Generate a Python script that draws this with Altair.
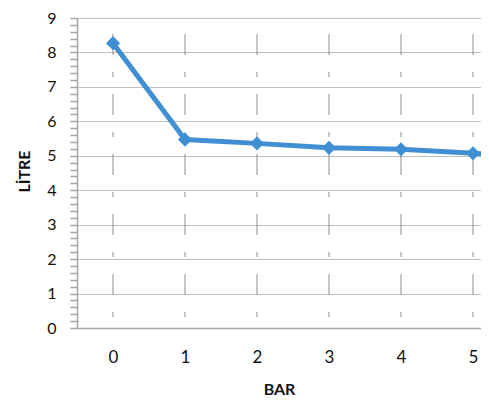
import altair as alt
import pandas as pd

bar = [0, 1, 2, 3, 4, 5, 6]
litre = [8.27, 5.47, 5.36, 5.23, 5.19, 5.07, 4.95]
x_ticks = [0, 1, 2, 3, 4, 5]
y_ticks = [round(i * 0.2, 1) for i in range(46)]

df = pd.DataFrame({"BAR": bar, "LITRE": litre})
grid_df = pd.DataFrame({"BAR": x_ticks})

FONT = "Lato"
BLUE = "#408fd3"
TXT = "#111111"
AXC = "#a6a6a6"
is_major = "abs(datum.value - round(datum.value)) < 0.001"

x_scale = alt.Scale(domain=[-0.5, 5.111], nice=False, zero=False)
y_scale = alt.Scale(domain=[0, 9], nice=False)

x_axis = alt.Axis(
    values=x_ticks,
    format="d",
    title="BAR",
    grid=False,
    ticks=False,
    tickSize=0,
    domainColor=AXC,
    domainWidth=1.5,
    labelFont=FONT,
    labelFontSize=17,
    labelColor=TXT,
    labelPadding=21,
    titleFont=FONT,
    titleFontSize=16,
    titleFontWeight="bold",
    titleColor=TXT,
    titleY=61,
    titleBaseline="middle",
)

y_axis = alt.Axis(
    values=y_ticks,
    title="LİTRE",
    grid=True,
    gridColor="#c0c0c0",
    gridWidth=1.2,
    gridOpacity={"condition": {"test": is_major, "value": 1}, "value": 0},
    labelExpr=f"{is_major} ? format(datum.value, 'd') : ''",
    tickColor=AXC,
    tickSize=7,
    tickWidth=1.5,
    domainColor=AXC,
    domainWidth=1.5,
    labelFont=FONT,
    labelFontSize=16,
    labelColor=TXT,
    labelPadding=14,
    titleFont=FONT,
    titleFontSize=16,
    titleFontWeight="bold",
    titleColor=TXT,
    titleAngle=-90,
    titleX=-53,
    titleY=153,
    titleAlign="center",
    titleBaseline="middle",
)

vgrid = (
    alt.Chart(grid_df)
    .mark_rule(color="#8c8c8c", strokeWidth=1, strokeDash=[5, 17, 21, 17], strokeDashOffset=49)
    .encode(
        x=alt.X("BAR:Q", scale=x_scale, axis=x_axis),
        y=alt.Y(datum=0, scale=y_scale, axis=y_axis),
        y2=alt.Y2(datum=9),
    )
)

base = alt.Chart(df).encode(
    x=alt.X("BAR:Q", scale=x_scale, axis=x_axis),
    y=alt.Y("LITRE:Q", scale=y_scale, axis=y_axis),
)

line = base.mark_line(color=BLUE, strokeWidth=5, clip=True)
points = base.mark_point(
    shape="diamond", filled=True, size=200, color=BLUE, opacity=1, clip=True
)

chart = (
    alt.layer(vgrid, line, points)
    .properties(
        width=404,
        height=310,
        autosize=alt.AutoSizeParams(type="none"),
        padding={"left": 69, "top": 10, "right": 0, "bottom": 69},
        background="white",
    )
    .configure_view(stroke=None)
)

chart.save("out.html", embed_options={"renderer": "svg", "actions": False})
